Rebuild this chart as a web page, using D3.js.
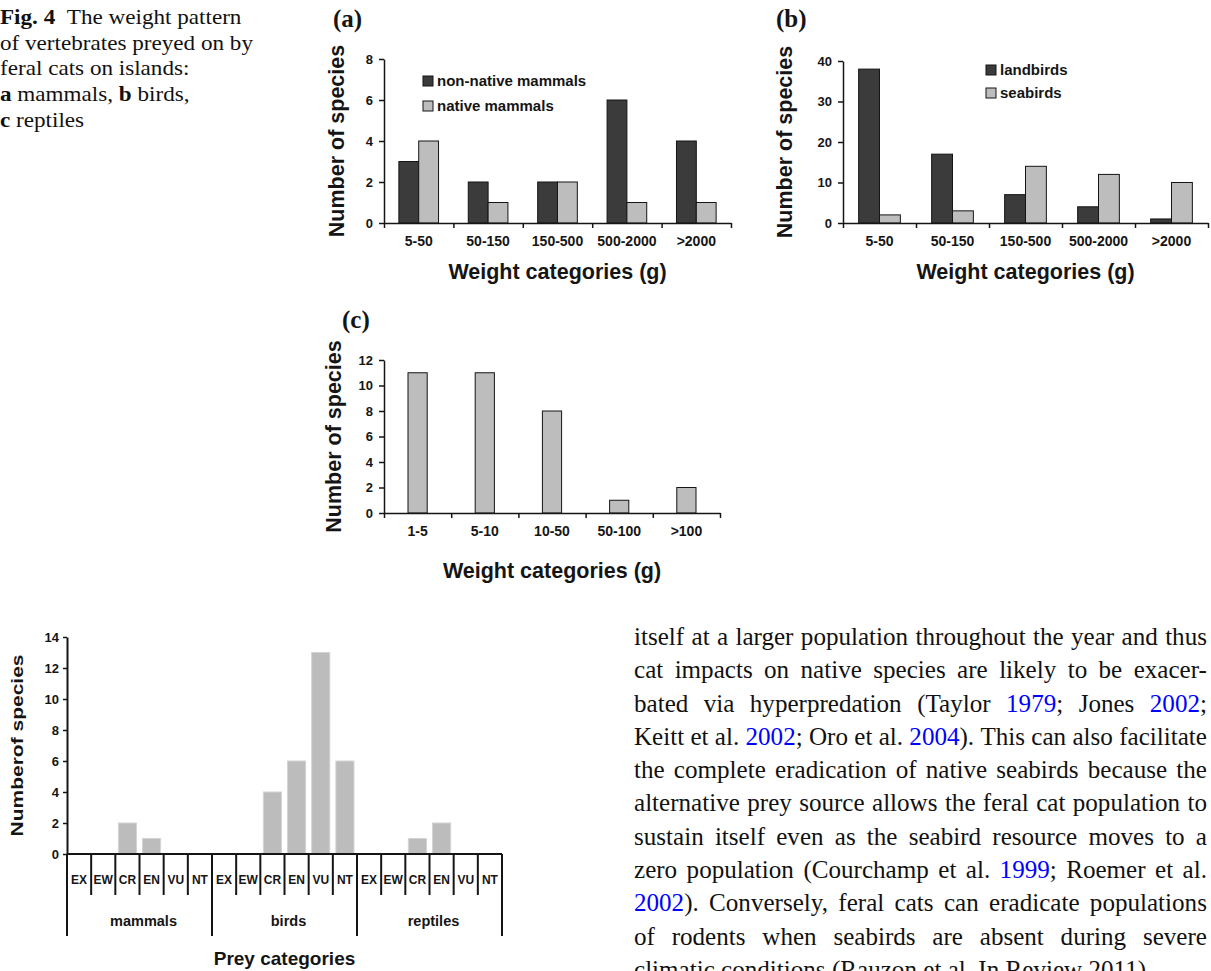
<!DOCTYPE html>
<html>
<head>
<meta charset="utf-8">
<script src="https://cdn.jsdelivr.net/npm/d3@7"></script>
<style>
  body { margin: 0; background: #fff; }
  svg { display: block; }
</style>
</head>
<body>
<svg id="page" width="1211" height="971"></svg>
<script>
// ---- data ----
var weightCatsMB = ["5-50", "50-150", "150-500", "500-2000", ">2000"];
var nonNativeMammals = [3, 2, 2, 6, 4];
var nativeMammals = [4, 1, 2, 1, 1];
var landbirds = [38, 17, 7, 4, 1];
var seabirds = [2, 3, 14, 12, 10];

var weightCatsR = ["1-5", "5-10", "10-50", "50-100", ">100"];
var reptileWeights = [11, 11, 8, 1, 2];

var iucnCats = ["EX", "EW", "CR", "EN", "VU", "NT"];
var preyGroups = ["mammals", "birds", "reptiles"];
var threatMammals = [0, 0, 2, 1, 0, 0];
var threatBirds = [0, 0, 4, 6, 13, 6];
var threatReptiles = [0, 0, 1, 2, 0, 0];

var ticksA = [0, 2, 4, 6, 8];
var ticksB = [0, 10, 20, 30, 40];
var ticksC = [0, 2, 4, 6, 8, 10, 12];
var ticksD = [0, 2, 4, 6, 8, 10, 12, 14];

// *..* marks bold words
var captionLines = ["*Fig.* *4*  The weight pattern", "of vertebrates preyed on by", "feral cats on islands:",
                    "*a* mammals, *b* birds,", "*c* reptiles"];
// {..} marks a blue citation link
var bodyLines = [
  "itself at a larger population throughout the year and thus",
  "cat impacts on native species are likely to be exacer-",
  "bated via hyperpredation (Taylor {1979}; Jones {2002};",
  "Keitt et al. {2002}; Oro et al. {2004}). This can also facilitate",
  "the complete eradication of native seabirds because the",
  "alternative prey source allows the feral cat population to",
  "sustain itself even as the seabird resource moves to a",
  "zero population (Courchamp et al. {1999}; Roemer et al.",
  "{2002}). Conversely, feral cats can eradicate populations",
  "of rodents when seabirds are absent during severe",
  "climatic conditions (Rauzon et al. In Review 2011)."
];

var DARK = "#3b3b3b", LIGHT = "#bdbdbd", INK = "#151515";
var SANS = "'Liberation Sans', Arial, sans-serif";
var SERIF = "'Liberation Serif', 'Times New Roman', serif";

var svg = d3.select("#page");
svg.append("rect").attr("width", 1211).attr("height", 971).attr("fill", "#fff");

function styleAxis(sel, fs) {
    sel.selectAll(".domain, .tick line").attr("stroke", INK).attr("stroke-width", 1.5);
    sel.selectAll("text").attr("fill", INK).attr("font-family", SANS)
        .attr("font-weight", "bold").attr("font-size", fs);
}

function panel(o) {
    var n = o.cats.length;
    var x = d3.scaleBand().domain(o.cats).range([o.left, o.right]);
    var edge = d3.scaleLinear().domain([0, n]).range([o.left, o.right]);
    var y = d3.scaleLinear().domain([0, o.yMax]).range([o.bottom, o.top]);
    var sub = d3.scaleBand().domain(d3.range(o.series.length)).range([0, x.bandwidth()])
        .paddingOuter(o.series.length === 1 ? 1.25 : 0.75);
    var g = svg.append("g");

    o.series.forEach(function (s, si) {
        g.append("g").selectAll("rect").data(s.values).join("rect")
            .attr("x", function (d, i) { return x(o.cats[i]) + sub(si); })
            .attr("y", function (d) { return y(d); })
            .attr("width", sub.bandwidth())
            .attr("height", function (d) { return y(0) - y(d); })
            .attr("fill", s.fill)
            .attr("stroke", INK).attr("stroke-width", 1);
    });

    var ya = g.append("g").attr("transform", "translate(" + o.left + ",0)")
        .call(d3.axisLeft(y).tickValues(o.yTicks).tickSize(5).tickSizeOuter(0).tickPadding(6));
    styleAxis(ya, 13);

    var xe = g.append("g").attr("transform", "translate(0," + o.bottom + ")")
        .call(d3.axisBottom(edge).tickValues(d3.range(n + 1)).tickFormat("").tickSize(5).tickSizeOuter(0));
    styleAxis(xe, 13);
    var xl = g.append("g").attr("transform", "translate(0," + o.bottom + ")")
        .call(d3.axisBottom(x).tickSize(0).tickPadding(13));
    xl.select(".domain").remove();
    styleAxis(xl, 14);

    // titles
    g.append("text").attr("x", o.tagX).attr("y", o.tagY)
        .attr("font-family", SERIF).attr("font-weight", "bold").attr("font-size", 25)
        .attr("fill", INK).text(o.tag);
    g.append("text")
        .attr("transform", "translate(" + o.yTitleX + "," + (o.top + o.bottom) / 2 + ") rotate(-90)")
        .attr("text-anchor", "middle").attr("dominant-baseline", "central")
        .attr("font-family", SANS).attr("font-weight", "bold").attr("font-size", 21.5)
        .attr("fill", INK).text("Number of species");
    g.append("text").attr("x", (o.left + o.right) / 2).attr("y", o.xTitleY)
        .attr("text-anchor", "middle")
        .attr("font-family", SANS).attr("font-weight", "bold").attr("font-size", 21.5)
        .attr("fill", INK).text("Weight categories (g)");

    if (o.legend) {
        var lg = g.append("g").selectAll("g").data(o.series).join("g")
            .attr("transform", function (d, i) { return "translate(" + o.legend.x + "," + (o.legend.y + i * o.legend.dy) + ")"; });
        lg.append("rect").attr("x", 0).attr("y", -5).attr("width", 10).attr("height", 10)
            .attr("fill", function (d) { return d.fill; }).attr("stroke", INK).attr("stroke-width", 1);
        lg.append("text").attr("x", 14).attr("dy", "0.35em")
            .attr("font-family", SANS).attr("font-weight", "bold").attr("font-size", 15)
            .attr("fill", INK).text(function (d) { return d.name; });
    }
}

panel({
    cats: weightCatsMB, left: 384, right: 731, top: 59, bottom: 223, yMax: 8, yTicks: ticksA,
    series: [{ name: "non-native mammals", values: nonNativeMammals, fill: DARK },
             { name: "native mammals", values: nativeMammals, fill: LIGHT }],
    tag: "(a)", tagX: 333, tagY: 27, yTitleX: 337, xTitleY: 279,
    legend: { x: 423, y: 81, dy: 25 }
});
panel({
    cats: weightCatsMB, left: 843, right: 1208, top: 61, bottom: 223, yMax: 40, yTicks: ticksB,
    series: [{ name: "landbirds", values: landbirds, fill: DARK },
             { name: "seabirds", values: seabirds, fill: LIGHT }],
    tag: "(b)", tagX: 776, tagY: 27, yTitleX: 785, xTitleY: 279,
    legend: { x: 986, y: 70, dy: 23 }
});
panel({
    cats: weightCatsR, left: 384, right: 720, top: 360, bottom: 513, yMax: 12, yTicks: ticksC,
    series: [{ name: "reptiles", values: reptileWeights, fill: LIGHT }],
    tag: "(c)", tagX: 342, tagY: 328, yTitleX: 334, xTitleY: 578
});

// ---- threat-category chart ----
(function () {
    var L = 67, R = 502, T = 637, B = 854;
    var threat = [threatMammals, threatBirds, threatReptiles];
    var rows = [];
    preyGroups.forEach(function (grp, gi) {
        iucnCats.forEach(function (c, ci) {
            rows.push({ key: grp + "|" + c, cat: c, group: grp, value: threat[gi][ci] });
        });
    });
    var x = d3.scaleBand().domain(rows.map(function (d) { return d.key; })).range([L, R])
        .paddingInner(0.25).paddingOuter(0.125);
    var edge = d3.scaleLinear().domain([0, rows.length]).range([L, R]);
    var y = d3.scaleLinear().domain([0, 14]).range([B, T]);
    var g = svg.append("g");

    g.append("g").selectAll("rect").data(rows).join("rect")
        .attr("x", function (d) { return x(d.key); })
        .attr("y", function (d) { return y(d.value); })
        .attr("width", x.bandwidth())
        .attr("height", function (d) { return B - y(d.value); })
        .attr("fill", "#bcbcbc").attr("stroke", "#d4d4d4").attr("stroke-width", 1);

    var ya = g.append("g").attr("transform", "translate(" + L + ",0)")
        .call(d3.axisLeft(y).tickValues(ticksD).tickSize(4).tickSizeOuter(0).tickPadding(4));
    styleAxis(ya, 13);
    ya.select(".domain").attr("stroke-width", 2);

    g.append("line").attr("x1", L).attr("x2", R).attr("y1", B).attr("y2", B)
        .attr("stroke", INK).attr("stroke-width", 2.2);

    // category dividers, longer at group borders
    g.append("g").selectAll("line").data(d3.range(rows.length + 1)).join("line")
        .attr("x1", function (i) { return edge(i); }).attr("x2", function (i) { return edge(i); })
        .attr("y1", B).attr("y2", function (i) { return i % iucnCats.length === 0 ? 936 : 895; })
        .attr("stroke", INK).attr("stroke-width", 2);

    g.append("g").selectAll("text").data(rows).join("text")
        .attr("x", function (d) { return x(d.key) + x.bandwidth() / 2; }).attr("y", 880)
        .attr("text-anchor", "middle").attr("dominant-baseline", "central")
        .attr("font-family", SANS).attr("font-weight", "bold").attr("font-size", 12)
        .attr("fill", INK).text(function (d) { return d.cat; });

    var gw = (R - L) / preyGroups.length;
    g.append("g").selectAll("text").data(preyGroups).join("text")
        .attr("x", function (d, i) { return L + gw * (i + 0.5) + 4; }).attr("y", 921)
        .attr("text-anchor", "middle").attr("dominant-baseline", "central")
        .attr("font-family", SANS).attr("font-weight", "bold").attr("font-size", 14.5)
        .attr("fill", INK).text(function (d) { return d; });

    g.append("text").attr("x", (L + R) / 2).attr("y", 958)
        .attr("text-anchor", "middle").attr("dominant-baseline", "central")
        .attr("font-family", SANS).attr("font-weight", "bold").attr("font-size", 19)
        .attr("fill", INK).text("Prey categories");

    g.append("text")
        .attr("transform", "translate(17," + (T + B) / 2 + ") rotate(-90)")
        .attr("text-anchor", "middle").attr("dominant-baseline", "central")
        .attr("textLength", 182).attr("lengthAdjust", "spacingAndGlyphs")
        .attr("font-family", SANS).attr("font-weight", "bold").attr("font-size", 17)
        .attr("fill", INK).text("Numberof species");
})();

// ---- serif text: caption and body column ----
function wordParts(word, re, fmt) {
    return word.split(re).filter(function (p) { return p.length; }).map(fmt);
}

function textBlock(lines, o) {
    var g = svg.append("g").attr("font-family", SERIF).attr("font-size", o.fs).attr("fill", "#111");
    var inner = g.append("g");
    var laid = lines.map(function (line, li) {
        var words = line.split(/ +/).map(function (w) {
            var t = inner.append("text").attr("y", o.y0 + li * o.lh);
            wordParts(w, o.re, o.fmt).forEach(function (p) {
                t.append("tspan").attr("fill", p.color || null)
                    .attr("font-weight", p.bold ? "bold" : null).text(p.text);
            });
            return { el: t, w: t.node().getComputedTextLength() };
        });
        var gaps = (line.match(/ +/g) || []).map(function (s) { return s.length; });
        var sum = d3.sum(words, function (d) { return d.w; });
        var natural = sum + d3.sum(gaps) * o.fs * 0.25;
        return { words: words, gaps: gaps, sum: sum, natural: natural };
    });
    var sx = o.width / d3.max(o.fitLines, function (i) { return laid[i].natural; });
    inner.attr("transform", "translate(" + o.x0 + ",0) scale(" + sx + ",1)");
    laid.forEach(function (ln, li) {
        var unit = o.fs * 0.25;
        if (o.justify(li) && ln.gaps.length) {
            unit = (o.width / sx - ln.sum) / d3.sum(ln.gaps);
        }
        var cx = 0;
        ln.words.forEach(function (w, wi) {
            w.el.attr("x", cx);
            cx += w.w + (wi < ln.gaps.length ? ln.gaps[wi] * unit : 0);
        });
    });
}

textBlock(captionLines, {
    x0: 0, y0: 24, lh: 25.7, fs: 21.5, width: 253, fitLines: [1],
    re: /(\*[^*]*\*)/,
    fmt: function (p) { return p[0] === "*" ? { text: p.slice(1, -1), bold: true } : { text: p }; },
    justify: function () { return false; }
});

textBlock(bodyLines, {
    x0: 634, y0: 645, lh: 33.3, fs: 25, width: 573, fitLines: d3.range(10),
    re: /(\{[^}]*\})/,
    fmt: function (p) { return p[0] === "{" ? { text: p.slice(1, -1), color: "#0000ff" } : { text: p }; },
    justify: function (i) { return i < 10; }
});
</script>
</body>
</html>
